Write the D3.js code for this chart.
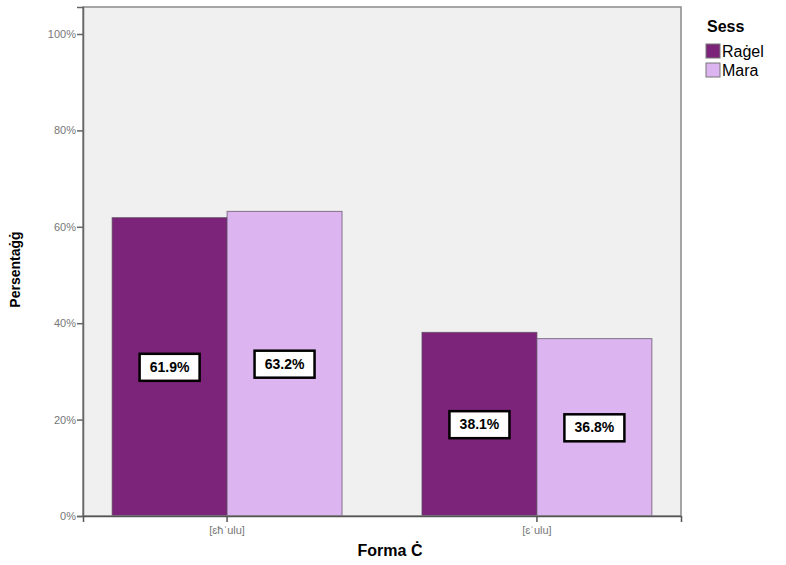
<!DOCTYPE html>
<html>
<head>
<meta charset="utf-8">
<script src="https://cdn.jsdelivr.net/npm/d3@7"></script>
<style>
  body { margin: 0; background: #fff; }
  svg { font-family: Arial, "Liberation Sans", sans-serif; }
</style>
</head>
<body>
<div id="chart"></div>
<script>
// Data
const categories = ['[ɛħˈulu]', '[ɛˈulu]'];
const seriesNames = ['Raġel', 'Mara'];
const ragelValues = [61.9, 38.1];
const maraValues = [63.2, 36.8];
const yTicks = [0, 20, 40, 60, 80, 100];

const colors = { 'Raġel': '#7b2479', 'Mara': '#dcb4f0' };

const width = 786, height = 565;
const margin = { left: 83, right: 105, top: 7, bottom: 49 };
const plotW = width - margin.left - margin.right;
const plotH = height - margin.top - margin.bottom;

const svg = d3.select('#chart')
    .append('svg')
    .attr('width', width)
    .attr('height', height);

const rows = categories.map((c, i) => ({
    cat: c,
    values: [
        { key: 'Raġel', value: ragelValues[i] },
        { key: 'Mara', value: maraValues[i] }
    ]
}));

// Scales
const x0 = d3.scaleBand()
    .domain(categories)
    .range([0, plotW])
    .paddingInner(0.258)
    .paddingOuter(0.094);

const x1 = d3.scaleBand()
    .domain(seriesNames)
    .range([0, x0.bandwidth()]);

const y = d3.scaleLinear()
    .domain([0, 105.6])
    .range([plotH, 0]);

const g = svg.append('g')
    .attr('transform', `translate(${margin.left},${margin.top})`);

// Plot background
g.append('rect')
    .attr('width', plotW)
    .attr('height', plotH)
    .attr('fill', '#f0f0f0');

// Bars
const groups = g.selectAll('g.group')
    .data(rows)
    .enter()
    .append('g')
    .attr('class', 'group')
    .attr('transform', d => `translate(${x0(d.cat)},0)`);

groups.selectAll('rect')
    .data(d => d.values)
    .enter()
    .append('rect')
    .attr('x', d => x1(d.key))
    .attr('y', d => y(d.value))
    .attr('width', x1.bandwidth())
    .attr('height', d => plotH - y(d.value))
    .attr('fill', d => colors[d.key])
    .attr('stroke', '#5a4a5e')
    .attr('stroke-opacity', 0.7)
    .attr('stroke-width', 1);

// Value labels in the middle of each bar
const labels = groups.selectAll('g.lbl')
    .data(d => d.values)
    .enter()
    .append('g')
    .attr('class', 'lbl')
    .attr('transform', d => `translate(${x1(d.key) + x1.bandwidth() / 2},${y(d.value / 2)})`);

labels.append('rect')
    .attr('x', -30)
    .attr('y', -13)
    .attr('width', 60)
    .attr('height', 27)
    .attr('fill', '#fff')
    .attr('stroke', '#000')
    .attr('stroke-width', 2.5);

labels.append('text')
    .attr('text-anchor', 'middle')
    .attr('dy', '0.36em')
    .style('font-size', '14px')
    .style('font-weight', 'bold')
    .text(d => d.value.toFixed(1) + '%');

// Frame
g.append('rect')
    .attr('width', plotW)
    .attr('height', plotH)
    .attr('fill', 'none')
    .attr('stroke', '#8a8a8a')
    .attr('stroke-width', 1.5);

// Y axis
const yAxis = g.append('g')
    .call(d3.axisLeft(y).tickValues(yTicks).tickSize(6).tickFormat(d => d + '%'));
yAxis.select('.domain').attr('stroke', '#666').attr('stroke-width', 1.5);
yAxis.selectAll('.tick line').attr('stroke', '#666').attr('stroke-width', 1.5);
yAxis.selectAll('.tick text')
    .attr('fill', '#777')
    .attr('x', -7)
    .style('font-size', '11px');

// X axis
const xAxis = g.append('g')
    .attr('transform', `translate(0,${plotH})`)
    .call(d3.axisBottom(x0).tickSize(6));
xAxis.select('.domain').attr('stroke', '#555').attr('stroke-width', 1.5);
xAxis.selectAll('.tick line').attr('stroke', '#555').attr('stroke-width', 1.5);
xAxis.selectAll('.tick text')
    .attr('fill', '#777')
    .attr('y', 10)
    .style('font-size', '11px');

// Axis titles
svg.append('text')
    .attr('x', 390)
    .attr('y', 556)
    .attr('text-anchor', 'middle')
    .style('font-size', '16px')
    .style('font-weight', 'bold')
    .text('Forma Ċ');

svg.append('text')
    .attr('transform', `translate(20,${margin.top + plotH / 2 + 8}) rotate(-90)`)
    .attr('text-anchor', 'middle')
    .style('font-size', '14px')
    .style('font-weight', 'bold')
    .text('Persentaġġ');

// Legend
const legend = svg.append('g')
    .attr('transform', 'translate(706,0)');

legend.append('text')
    .attr('x', 1)
    .attr('y', 32)
    .style('font-size', '16px')
    .style('font-weight', 'bold')
    .text('Sess');

const items = legend.selectAll('g.item')
    .data(seriesNames)
    .enter()
    .append('g')
    .attr('class', 'item')
    .attr('transform', (d, i) => `translate(0,${44 + i * 19})`);

items.append('rect')
    .attr('width', 14)
    .attr('height', 14)
    .attr('fill', d => colors[d])
    .attr('stroke', '#777')
    .attr('stroke-width', 1);

items.append('text')
    .attr('x', 16)
    .attr('y', 13)
    .style('font-size', '16px')
    .text(d => d);
</script>
</body>
</html>
